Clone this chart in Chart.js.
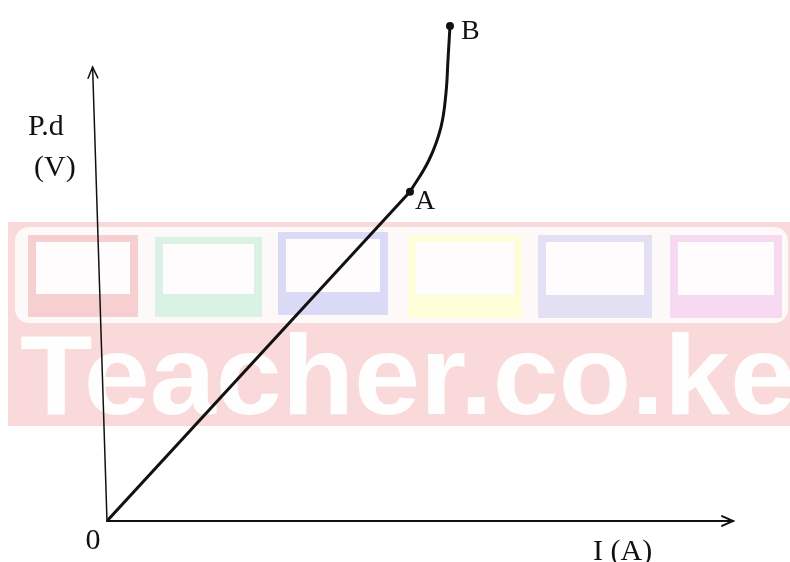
<!DOCTYPE html>
<html>
<head>
<meta charset="utf-8">
<script src="https://cdn.jsdelivr.net/npm/chart.js@4"></script>
<style>
  html, body { margin: 0; padding: 0; background: #fff; }
  #wrap { width: 790px; height: 562px; }
</style>
</head>
<body>
<div id="wrap"><canvas id="pdChart"></canvas></div>
<script>
// straight (ohmic) part, 0 -> A
var lineI = [0, 48.4];
var lineV = [0, 65.7];
// curved part, A -> B
var curveI = [48.4, 51.44, 53.35, 54.15, 54.47, 54.79];
var curveV = [65.7, 72.06, 78.64, 85.43, 92.02, 98.8];
// axis ends (arrow tips)
var xAxisEnd = [100, 0];
var yAxisEnd = [-2.3, 90.6];

function pts(xs, ys) {
  return xs.map(function (x, i) { return { x: x, y: ys[i] }; });
}

var serif = '"Liberation Serif", "DejaVu Serif", serif';

// faint Teacher.co.ke watermark behind the graph
var watermark = {
  id: 'watermark',
  beforeDatasetsDraw: function (chart) {
    var c = chart.ctx;
    c.save();
    c.fillStyle = 'rgb(249,217,217)';
    c.fillRect(8, 222, 782, 204);
    c.fillStyle = 'rgb(254,249,249)';
    c.beginPath();
    c.roundRect(15, 227, 773, 96, 14);
    c.fill();
    var boxes = [
      [28, 235, 110, 82, 'rgb(246,208,208)'],
      [155, 237, 107, 80, 'rgb(218,242,228)'],
      [278, 232, 110, 83, 'rgb(218,218,247)'],
      [408, 235, 114, 83, 'rgb(253,253,218)'],
      [538, 235, 114, 83, 'rgb(228,224,243)'],
      [670, 235, 112, 83, 'rgb(247,218,242)']
    ];
    boxes.forEach(function (b) {
      c.fillStyle = b[4];
      c.fillRect(b[0], b[1], b[2], b[3]);
      c.fillStyle = 'rgb(254,252,252)';
      c.fillRect(b[0] + 8, b[1] + 7, b[2] - 16, b[3] - 30);
    });
    c.fillStyle = 'rgba(255,255,255,0.96)';
    c.font = 'bold 113px "Liberation Sans", Arial, sans-serif';
    c.textBaseline = 'alphabetic';
    c.translate(20, 414);
    c.scale(1.05, 1);
    c.fillText('Teacher.co.ke', 0, 0);
    c.restore();
  }
};

// hand-drawn style axes with open arrow heads, plus text labels
function arrow(c, x0, y0, x1, y1) {
  var a = Math.atan2(y1 - y0, x1 - x0), len = 12, sp = 0.42;
  c.beginPath();
  c.moveTo(x0, y0);
  c.lineTo(x1, y1);
  c.stroke();
  c.beginPath();
  c.moveTo(x1 - len * Math.cos(a - sp), y1 - len * Math.sin(a - sp));
  c.lineTo(x1, y1);
  c.lineTo(x1 - len * Math.cos(a + sp), y1 - len * Math.sin(a + sp));
  c.stroke();
}

var axesAndText = {
  id: 'axesAndText',
  beforeDatasetsDraw: function (chart) {
    var c = chart.ctx, sx = chart.scales.x, sy = chart.scales.y;
    var ox = sx.getPixelForValue(0), oy = sy.getPixelForValue(0);
    c.save();
    c.strokeStyle = '#111';
    c.lineCap = 'round';
    c.lineWidth = 1.5;
    arrow(c, ox, oy, sx.getPixelForValue(yAxisEnd[0]), sy.getPixelForValue(yAxisEnd[1]));
    c.lineWidth = 2;
    arrow(c, ox, oy, sx.getPixelForValue(xAxisEnd[0]), sy.getPixelForValue(xAxisEnd[1]));
    c.restore();
  },
  afterDraw: function (chart) {
    var c = chart.ctx, sx = chart.scales.x, sy = chart.scales.y;
    var ox = sx.getPixelForValue(0), oy = sy.getPixelForValue(0);
    c.save();
    c.fillStyle = '#111';
    c.font = '30px ' + serif;
    c.textBaseline = 'alphabetic';
    c.textAlign = 'left';
    c.fillText('P.d', 28, 135);
    c.fillText('(V)', 34, 176);
    c.textAlign = 'center';
    c.fillText('0', ox - 14, oy + 28);
    c.textAlign = 'left';
    c.fillText('I (A)', 593, 560);
    c.font = '28px ' + serif;
    var n = curveI.length - 1;
    c.fillText('A', sx.getPixelForValue(curveI[0]) + 5, sy.getPixelForValue(curveV[0]) + 17);
    c.fillText('B', sx.getPixelForValue(curveI[n]) + 11, sy.getPixelForValue(curveV[n]) + 13);
    c.restore();
  }
};

var ctx = document.getElementById('pdChart').getContext('2d');
var pdChart = new Chart(ctx, {
  type: 'scatter',
  data: {
    datasets: [{
      label: 'ohmic',
      data: pts(lineI, lineV),
      showLine: true,
      borderColor: '#111',
      borderWidth: 3,
      tension: 0,
      pointRadius: 0
    },
    {
      label: 'curve',
      data: pts(curveI, curveV),
      showLine: true,
      borderColor: '#111',
      backgroundColor: '#111',
      borderWidth: 3,
      tension: 0.4,
      borderJoinStyle: 'round',
      pointRadius: curveI.map(function (v, i) { return (i === 0 || i === curveI.length - 1) ? 4 : 0; }),
      pointBorderWidth: 0
    }]
  },
  options: {
    responsive: true,
    maintainAspectRatio: false,
    animation: false,
    layout: { padding: { left: 107, right: 57, top: 20, bottom: 41 } },
    plugins: { legend: { display: false }, tooltip: { enabled: false } },
    scales: {
      x: { type: 'linear', min: 0, max: 100, display: false },
      y: { type: 'linear', min: 0, max: 100, display: false }
    }
  },
  plugins: [watermark, axesAndText]
});
</script>
</body>
</html>
